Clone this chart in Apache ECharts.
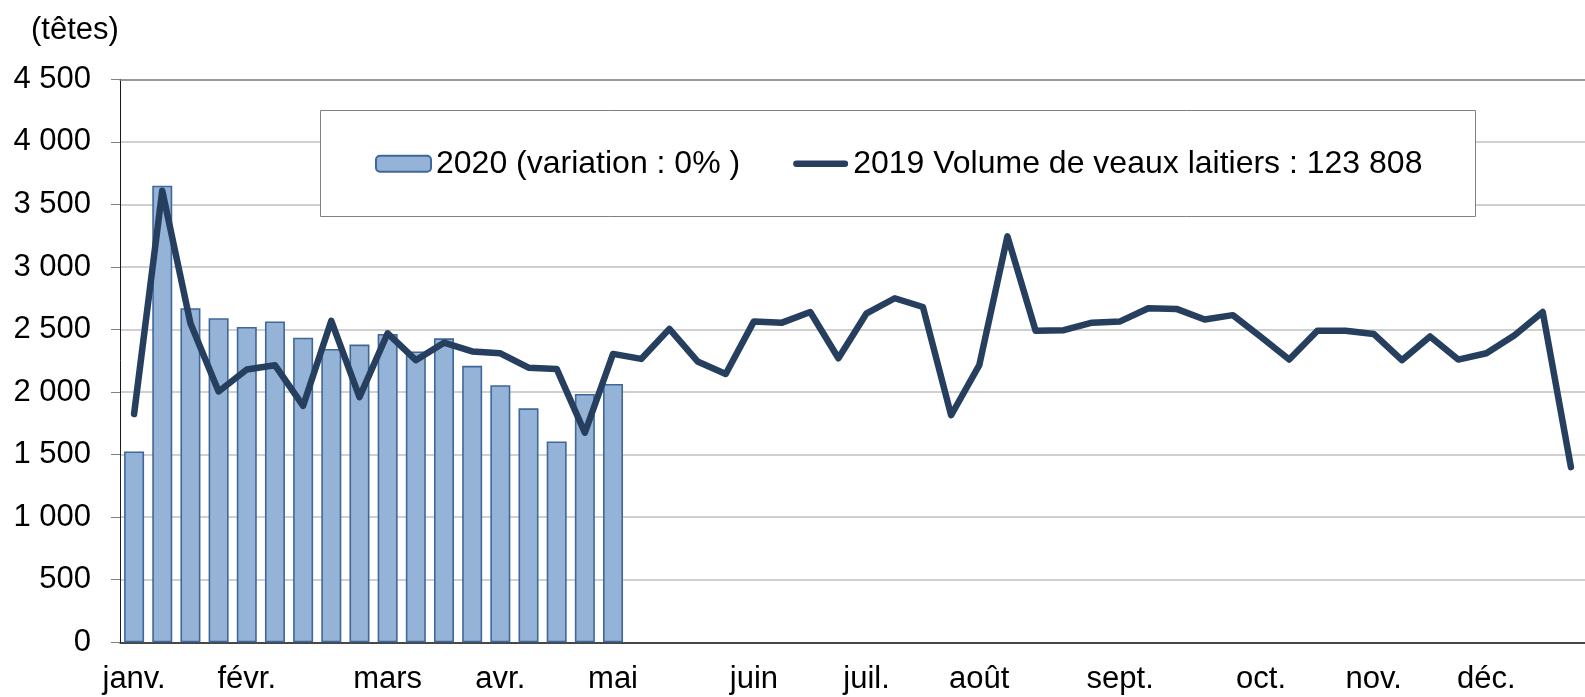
<!DOCTYPE html>
<html>
<head>
<meta charset="utf-8">
<title>Veaux laitiers</title>
<script src="https://cdn.jsdelivr.net/npm/echarts@6/dist/echarts.min.js"></script>
<style>
  html, body { margin: 0; padding: 0; background: #fff; }
  #barLine { width: 1585px; height: 697px; }
</style>
</head>
<body>
<div id="barLine"></div>
<script>
// semaines de l'annee
var weeks = ['S1', 'S2', 'S3', 'S4', 'S5', 'S6', 'S7', 'S8', 'S9', 'S10',
    'S11', 'S12', 'S13', 'S14', 'S15', 'S16', 'S17', 'S18', 'S19', 'S20',
    'S21', 'S22', 'S23', 'S24', 'S25', 'S26', 'S27', 'S28', 'S29', 'S30',
    'S31', 'S32', 'S33', 'S34', 'S35', 'S36', 'S37', 'S38', 'S39', 'S40',
    'S41', 'S42', 'S43', 'S44', 'S45', 'S46', 'S47', 'S48', 'S49', 'S50',
    'S51', 'S52'];
// libelles des mois sur l'axe (premiere semaine du mois)
var monthLabels = {
    'S1': 'janv.', 'S5': 'févr.', 'S10': 'mars', 'S14': 'avr.', 'S18': 'mai',
    'S23': 'juin', 'S27': 'juil.', 'S31': 'août', 'S36': 'sept.', 'S41': 'oct.',
    'S45': 'nov.', 'S49': 'déc.'
};
var yTicks = [0, 500, 1000, 1500, 2000, 2500, 3000, 3500, 4000, 4500];

var name2020 = '2020 (variation : 0% )';
var name2019 = '2019 Volume de veaux laitiers : 123 808';

var vol2020 = [1525, 3650, 2670, 2590, 2520, 2565, 2435, 2345, 2380, 2465,
    2325, 2430, 2210, 2055, 1870, 1605, 1985, 2065];

var vol2019 = [1825, 3610, 2550, 2005, 2180, 2215, 1890, 2570, 1960, 2470,
    2255, 2395, 2325, 2310, 2195, 2185, 1675, 2305, 2265, 2505,
    2245, 2145, 2565, 2555, 2640, 2270, 2630, 2750, 2680, 1815,
    2215, 3245, 2490, 2495, 2555, 2565, 2670, 2665, 2580, 2615,
    2440, 2260, 2490, 2490, 2465, 2255, 2445, 2260, 2310, 2455,
    2640, 1400];

var FONT = "'Liberation Sans', Arial, sans-serif";
var LINE_COLOR = '#263f5f';

function fmtNum(v) {
    if (v < 1000) return String(v);
    var r = String(v % 1000);
    while (r.length < 3) r = '0' + r;
    return Math.floor(v / 1000) + ' ' + r;
}

function barLine() {
    var el = document.getElementById('barLine');
    var myChart = echarts.init(el, null, { renderer: 'canvas' });

    var option = {
        animation: false,
        backgroundColor: '#fff',
        textStyle: { fontFamily: FONT, color: '#000' },
        grid: { left: 120, right: -8.3, top: 79.3, bottom: 54.7 },
        // cadre de la legende + unite
        graphic: [
            {
                type: 'rect',
                z: 3,
                shape: { x: 320.5, y: 110.5, width: 1155, height: 106 },
                style: { fill: '#fff', stroke: '#808080', lineWidth: 1 }
            },
            {
                type: 'text',
                style: {
                    x: 31, y: 30, text: '(têtes)', fontSize: 31,
                    fontFamily: FONT, fill: '#000', verticalAlign: 'middle'
                }
            }
        ],
        legend: {
            left: 375,
            top: 147.7,
            padding: 0,
            itemWidth: 55,
            itemHeight: 16,
            itemGap: 53,
            z: 4,
            textStyle: { fontSize: 32, fontFamily: FONT, color: '#000' },
            data: [
                { name: name2020 },
                {
                    name: name2019,
                    icon: 'path://M3.5,0 L54.5,0 A3.5,3.5 0 0 1 54.5,7 L3.5,7 A3.5,3.5 0 0 1 3.5,0 Z',
                    itemStyle: { color: LINE_COLOR, borderWidth: 0 }
                }
            ]
        },
        xAxis: [
            {
                type: 'category',
                data: weeks,
                boundaryGap: true,
                axisLine: { lineStyle: { color: '#1a1a1a', width: 1.5 } },
                axisTick: { interval: 0, length: 10, lineStyle: { color: '#808080', width: 1 } },
                axisLabel: {
                    interval: 0,
                    margin: 22,
                    fontSize: 31,
                    color: '#000',
                    formatter: function (v) { return monthLabels[v] || ''; }
                },
                splitLine: { show: false }
            },
            {
                // trait du haut a 4 500
                type: 'category',
                data: weeks,
                position: 'top',
                axisLine: { lineStyle: { color: '#888888', width: 1.5 } },
                axisTick: { show: false },
                axisLabel: { show: false }
            }
        ],
        yAxis: {
            type: 'value',
            min: yTicks[0],
            max: yTicks[yTicks.length - 1],
            interval: 500,
            axisLine: { show: true, lineStyle: { color: '#1a1a1a', width: 1 } },
            axisTick: { show: true, length: 9, lineStyle: { color: '#808080' } },
            axisLabel: {
                margin: 29,
                fontSize: 31,
                color: '#000',
                formatter: fmtNum
            },
            splitLine: { lineStyle: { color: '#c0c0c0', width: 1.5 } }
        },
        series: [
            {
                name: name2020,
                type: 'bar',
                xAxisIndex: 0,
                barWidth: 20,
                itemStyle: { color: '#95b3d7', borderColor: '#3f679b', borderWidth: 1.6 },
                data: vol2020
            },
            {
                name: name2019,
                type: 'line',
                xAxisIndex: 0,
                symbol: 'none',
                lineStyle: { color: LINE_COLOR, width: 6.5, cap: 'round', join: 'round' },
                itemStyle: { color: LINE_COLOR },
                data: vol2019
            }
        ]
    };

    myChart.setOption(option);
}

barLine();
</script>
</body>
</html>
